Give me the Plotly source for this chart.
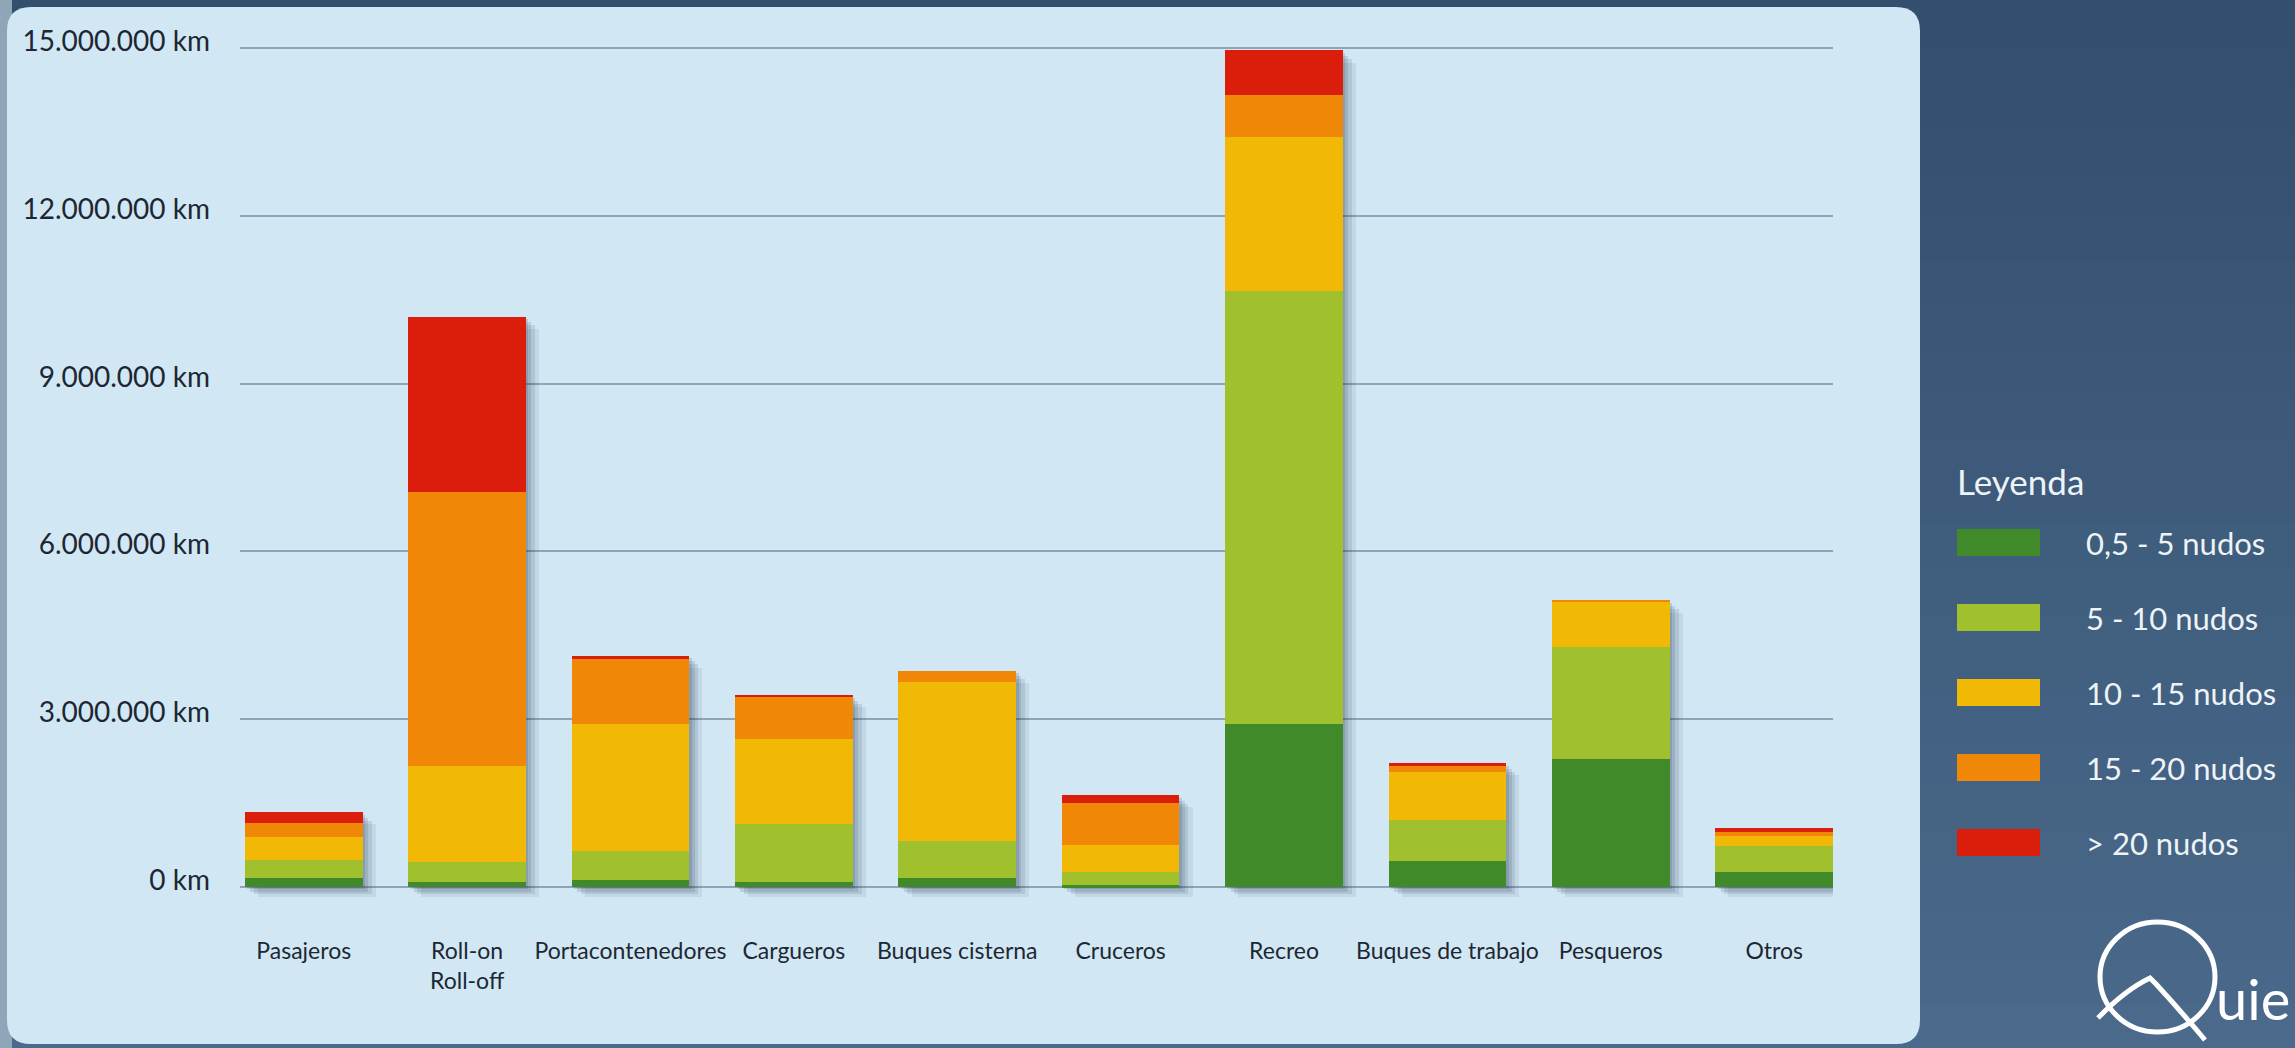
import numpy as np
import plotly.graph_objects as go

# ---------------- data (km) ----------------
categorias = ["Pasajeros", "Roll-on<br>Roll-off", "Portacontenedores", "Cargueros",
              "Buques cisterna", "Cruceros", "Recreo", "Buques de trabajo",
              "Pesqueros", "Otros"]
v_05_5 = [160000, 90000, 120000, 90000, 160000, 30000, 2920000, 460000, 2290000, 270000]
v_5_10 = [330000, 360000, 520000, 1040000, 670000, 230000, 7740000, 730000, 2010000, 470000]
v_10_15 = [400000, 1720000, 2270000, 1520000, 2840000, 500000, 2760000, 860000, 810000, 180000]
v_15_20 = [260000, 4900000, 1170000, 760000, 200000, 740000, 750000, 120000, 10000, 70000]
v_20 = [190000, 3130000, 60000, 20000, 0, 140000, 790000, 50000, 0, 70000]

series_nombres = ["0,5 - 5 nudos", "5 - 10 nudos", "10 - 15 nudos", "15 - 20 nudos", "> 20 nudos"]
series_valores = [v_05_5, v_5_10, v_10_15, v_15_20, v_20]
series_colores = ["#408a2a", "#a0c02d", "#f2b806", "#f08706", "#da1e0b"]

tick_vals = [0, 3000000, 6000000, 9000000, 12000000, 15000000]
tick_text = ["0 km", "3.000.000 km", "6.000.000 km", "9.000.000 km", "12.000.000 km", "15.000.000 km"]

# ---------------- layout geometry ----------------
W, H = 2295, 1048
L, R, T, B = 240, 462, 37, 147
PW, PH = W - L - R, H - T - B


def px(x):
    return (x - L) / PW


def py(y):
    return (T + PH - y) / PH


FONT = "Lato"
BAR_W = 0.72

fig = go.Figure()

# drop shadows (drawn first, overlay because base is set)
totales = np.sum(np.array(series_valores), axis=0)
sombras = [(0.08, 180000, 0.08), (0.055, 130000, 0.11), (0.033, 85000, 0.13), (0.015, 40000, 0.15)]
for shift, down, alpha in sombras:
    base = -down
    top = totales - down * 1.2
    fig.add_trace(go.Bar(
        x=categorias, y=top - base, base=[base] * len(categorias),
        width=BAR_W, offset=-BAR_W / 2 + shift,
        marker=dict(color=f"rgba(30,50,75,{alpha})", line=dict(width=0)),
        showlegend=False, hoverinfo="skip"))

for nombre, vals, col in zip(series_nombres, series_valores, series_colores):
    fig.add_trace(go.Bar(
        x=categorias, y=vals, name=nombre,
        marker=dict(color=col, line=dict(width=0)),
        showlegend=False))

shapes = []
# background vertical gradient (dark blue)
n_bands = 24
c_top = np.array([0x33, 0x4f, 0x6e])
c_bot = np.array([0x4b, 0x6a, 0x8b])
for i in range(n_bands):
    f = i / (n_bands - 1)
    c = (c_top * (1 - f) + c_bot * f).astype(int)
    ya = i * H / n_bands
    yb = (i + 1) * H / n_bands + 1
    shapes.append(dict(type="rect", xref="paper", yref="paper",
                       x0=px(0), x1=px(W), y0=py(yb), y1=py(ya),
                       fillcolor=f"rgb({c[0]},{c[1]},{c[2]})", line=dict(width=0), layer="below"))
# grey-ish left edge
shapes.append(dict(type="rect", xref="paper", yref="paper", x0=px(0), x1=px(12), y0=py(H), y1=py(0),
                   fillcolor="#8fa6b9", line=dict(width=0), layer="below"))

# rounded light panel
x0, y0, x1, y1, rr = 7, 7, 1920, 1044, 24
path = (f"M {px(x0+rr)},{py(y0)} L {px(x1-rr)},{py(y0)} Q {px(x1)},{py(y0)} {px(x1)},{py(y0+rr)} "
        f"L {px(x1)},{py(y1-rr)} Q {px(x1)},{py(y1)} {px(x1-rr)},{py(y1)} "
        f"L {px(x0+rr)},{py(y1)} Q {px(x0)},{py(y1)} {px(x0)},{py(y1-rr)} "
        f"L {px(x0)},{py(y0+rr)} Q {px(x0)},{py(y0)} {px(x0+rr)},{py(y0)} Z")
shapes.append(dict(type="path", path=path, xref="paper", yref="paper",
                   fillcolor="#d1e7f3", line=dict(width=0), layer="below"))

annotations = []
# custom legend
annotations.append(dict(text="Leyenda", x=px(1955), y=py(481), xref="paper", yref="paper",
                        xanchor="left", yanchor="middle", showarrow=False,
                        font=dict(family=FONT, size=35, color="#eef3f7")))
for i, (nombre, col) in enumerate(zip(series_nombres, series_colores)):
    cy = 542.6 + i * 75
    shapes.append(dict(type="rect", xref="paper", yref="paper",
                       x0=px(1957), x1=px(2040), y0=py(cy - 13.5), y1=py(cy + 13.5),
                       fillcolor=col, line=dict(width=0)))
    annotations.append(dict(text=nombre, x=px(2084), y=py(cy), xref="paper", yref="paper",
                            xanchor="left", yanchor="middle", showarrow=False,
                            font=dict(family=FONT, size=31, color="#eef3f7")))

# logo approximation
shapes.append(dict(type="circle", xref="paper", yref="paper",
                   x0=px(2100), x1=px(2215), y0=py(1032), y1=py(922),
                   line=dict(color="white", width=5)))
shapes.append(dict(type="path", xref="paper", yref="paper",
                   path=(f"M {px(2098)},{py(1018)} Q {px(2125)},{py(990)} {px(2150)},{py(978)} "
                         f"L {px(2156)},{py(984)} Q {px(2180)},{py(1010)} {px(2205)},{py(1040)}"),
                   line=dict(color="white", width=5)))
annotations.append(dict(text="uie", x=px(2214), y=py(1034), xref="paper", yref="paper",
                        xanchor="left", yanchor="bottom", showarrow=False,
                        font=dict(family=FONT, size=56, color="white")))

fig.update_layout(
    width=W, height=H,
    margin=dict(l=L, r=R, t=T, b=B, pad=0),
    paper_bgcolor="#3e5e7f",
    plot_bgcolor="rgba(0,0,0,0)",
    barmode="stack",
    bargap=1 - BAR_W,
    showlegend=False,
    shapes=shapes,
    annotations=annotations,
    xaxis=dict(range=[-0.39, 9.36], showgrid=False, zeroline=False, showline=False,
               ticks="", ticklabelstandoff=34,
               tickfont=dict(family=FONT, size=23, color="#1d2733")),
    yaxis=dict(range=[-250000, 15200000], tickvals=tick_vals, ticktext=tick_text,
               showgrid=True, gridcolor="#8fa5b7", gridwidth=2, zeroline=False,
               showline=False, ticks="", ticklabelstandoff=29, ticklabelshift=-7,
               tickfont=dict(family=FONT, size=28, color="#1d2733")),
)

fig.write_html("out.html")
